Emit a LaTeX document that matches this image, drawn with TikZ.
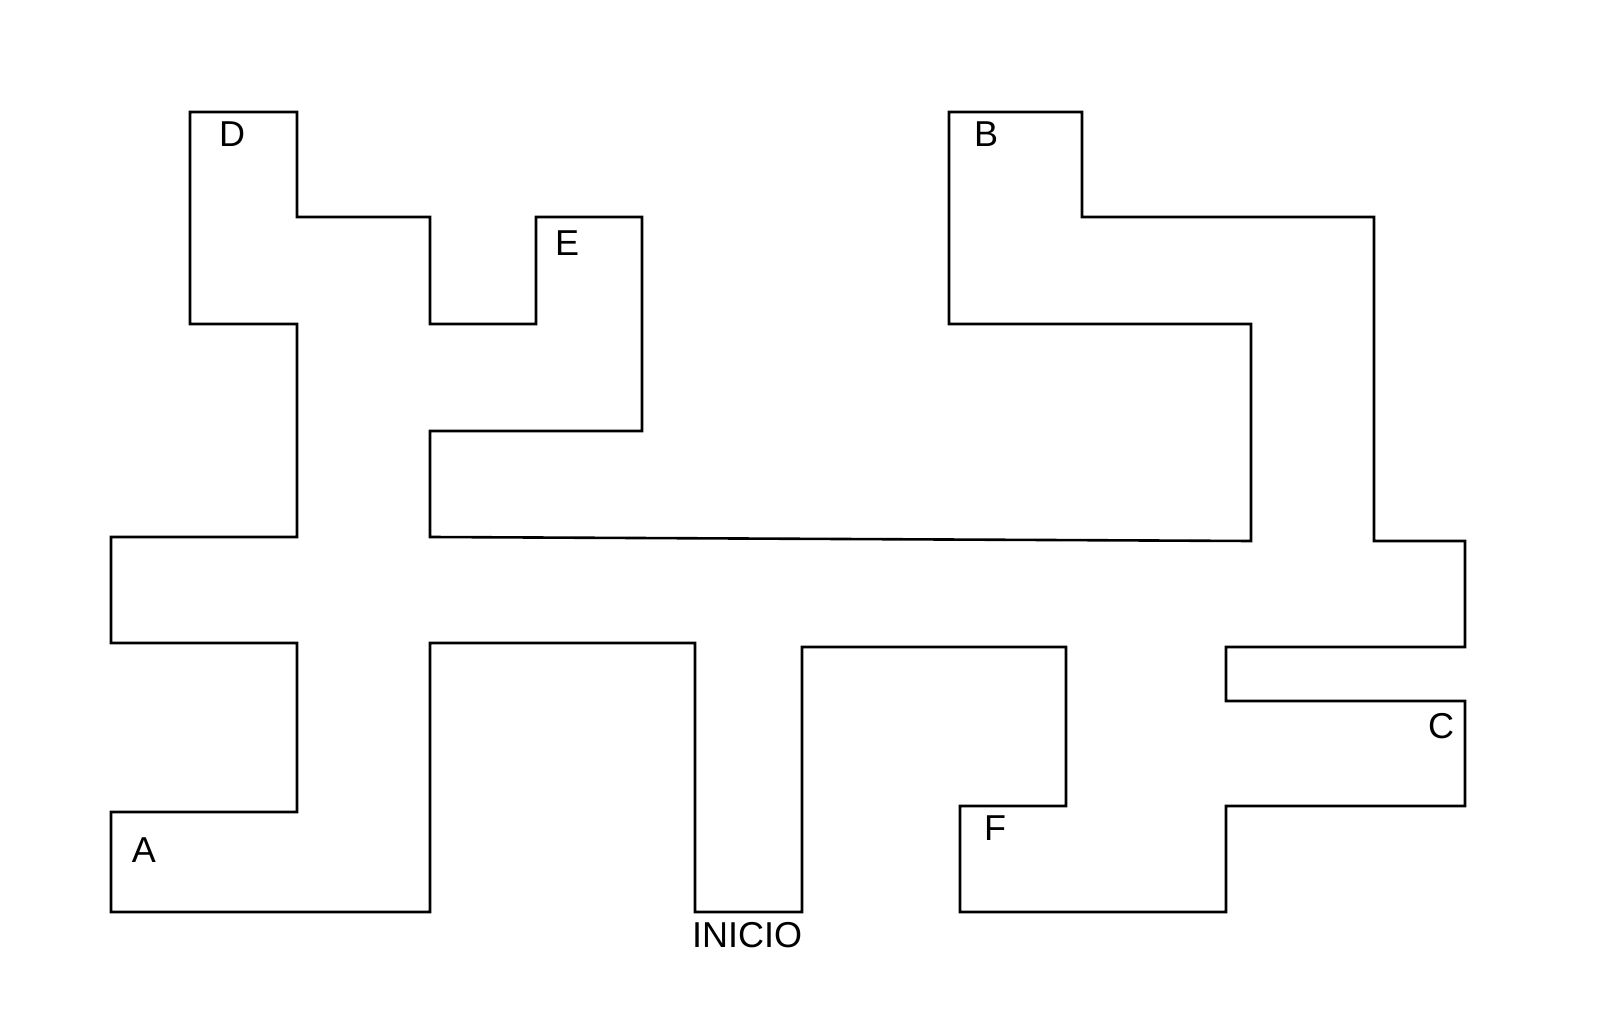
\documentclass[tikz,border=0pt]{standalone}
\usepackage{fontspec}
\setmainfont{Liberation Sans}
\begin{document}
\begin{tikzpicture}[x=0.5pt,y=-0.5pt,
  wall/.style={draw=black,line width=1.3pt,line join=miter},
  lbl/.style={inner sep=0pt,font=\fontsize{18}{20}\selectfont}]
\useasboundingbox (0,0) rectangle (1600,1036);
\draw[wall] (190,112) -- (297,112) -- (297,217) -- (430,217) -- (430,324) -- (536,324)
  -- (536,217) -- (642,217) -- (642,431) -- (430,431) -- (430,537) -- (1251,541)
  -- (1251,324) -- (949,324) -- (949,112) -- (1082,112) -- (1082,217) -- (1374,217)
  -- (1374,541) -- (1465,541) -- (1465,647) -- (1226,647) -- (1226,701) -- (1465,701)
  -- (1465,806) -- (1226,806) -- (1226,912) -- (960,912) -- (960,806) -- (1066,806)
  -- (1066,647) -- (802,647) -- (802,912) -- (695,912) -- (695,643) -- (430,643)
  -- (430,912) -- (111,912) -- (111,812) -- (297,812) -- (297,643) -- (111,643)
  -- (111,537) -- (297,537) -- (297,324) -- (190,324) -- cycle;
\node[lbl] (D) at (232,134) {D};
\node[lbl] (E) at (567,243) {E};
\node[lbl] (B) at (986,134) {B};
\node[lbl] (C) at (1441,726) {C};
\node[lbl] (F) at (995,828) {F};
\node[lbl] (A) at (144,850) {A};
\node[lbl] (I) at (747,935) {INICIO};
\end{tikzpicture}
\end{document}
